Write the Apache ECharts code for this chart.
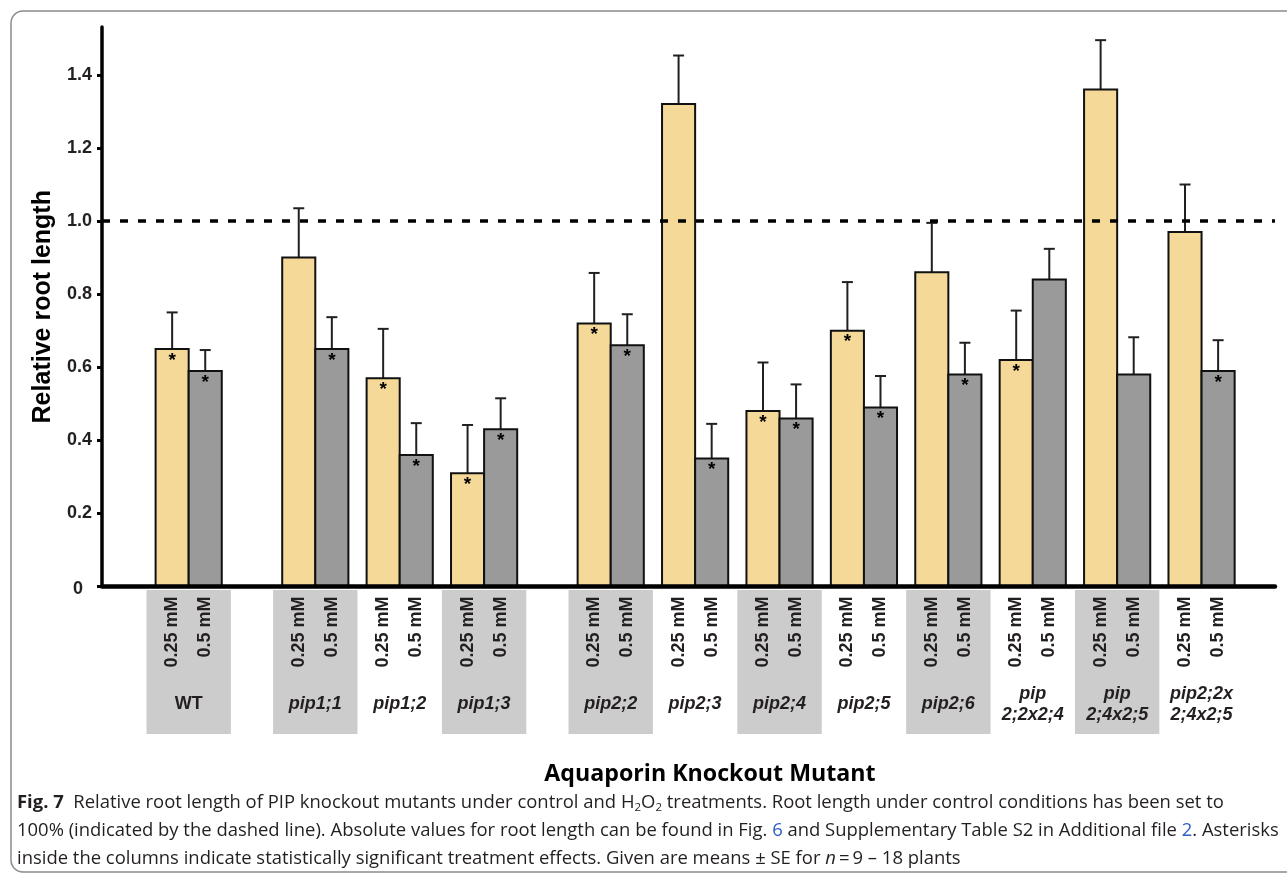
<!DOCTYPE html>
<html>
<head>
<meta charset="utf-8">
<script src="https://cdn.jsdelivr.net/npm/echarts@6/dist/echarts.min.js"></script>
<style>
html,body{margin:0;padding:0;background:#fff;}
#chart{width:1287px;height:875px;}
</style>
</head>
<body>
<div id="chart"></div>
<script>
// ---- data ----
const groupNames = ['WT','pip1;1','pip1;2','pip1;3','pip2;2','pip2;3','pip2;4','pip2;5','pip2;6','pip\n2;2x2;4','pip\n2;4x2;5','pip2;2x\n2;4x2;5'];
const groupSlots = [0, 1.5, 2.5, 3.5, 5, 6, 7, 8, 9, 10, 11, 12];
const doseLabels = ['0.25 mM', '0.5 mM'];
const mean025 = [0.65, 0.90, 0.57, 0.31, 0.72, 1.32, 0.48, 0.70, 0.86, 0.62, 1.36, 0.97];
const se025   = [0.10, 0.135, 0.135, 0.132, 0.138, 0.133, 0.133, 0.133, 0.135, 0.135, 0.135, 0.13];
const sig025  = [1, 0, 1, 1, 1, 0, 1, 1, 0, 1, 0, 0];
const mean05  = [0.59, 0.65, 0.36, 0.43, 0.66, 0.35, 0.46, 0.49, 0.58, 0.84, 0.58, 0.59];
const se05    = [0.057, 0.087, 0.087, 0.085, 0.085, 0.095, 0.093, 0.086, 0.087, 0.084, 0.102, 0.084];
const sig05   = [1, 1, 1, 1, 1, 1, 1, 1, 1, 0, 0, 1];
const referenceLevel = 1.0;
const yTickValues = [0, 0.2, 0.4, 0.6, 0.8, 1.0, 1.2, 1.4];
const shadedGroup = [1, 1, 0, 1, 1, 0, 1, 0, 1, 0, 1, 0];

// ---- styling ----
const YELLOW = '#f4d999';
const GRAY = '#9a9a9a';
const BOX = '#cccccc';
const INK = '#231f20';
const SANS = '"Liberation Sans", Arial, Helvetica, sans-serif';
const CAP = '"Open Sans", Lato, sans-serif';
const CAPSIZE = '18.45px ';

function barRenderer(side, fill) {
  return function (params, api) {
    const x = api.value(0), v = api.value(1), se = api.value(2), sig = api.value(3);
    const unit = api.size([1, 0])[0];
    const w = unit * 0.392;
    const base = api.coord([x, 0]);
    const top = api.coord([x, v]);
    const err = api.coord([x, v + se]);
    const cx = base[0] + side * w / 2;
    const children = [
      { type: 'line', shape: { x1: cx, y1: top[1], x2: cx, y2: err[1] }, style: { stroke: INK, lineWidth: 2 } },
      { type: 'line', shape: { x1: cx - 5.5, y1: err[1], x2: cx + 5.5, y2: err[1] }, style: { stroke: INK, lineWidth: 2 } },
      { type: 'rect', shape: { x: cx - w / 2, y: top[1], width: w, height: base[1] - top[1] },
        style: { fill: fill, stroke: '#111', lineWidth: 2 } }
    ];
    if (sig) {
      children.push({ type: 'text', x: cx, y: top[1] + 2,
        style: { text: '*', fill: '#000', font: 'bold 19px ' + SANS, align: 'center', verticalAlign: 'top' } });
    }
    return { type: 'group', children: children };
  };
}

function labelRenderer(params, api) {
  const x = api.value(0), i = api.value(1);
  const unit = api.size([1, 0])[0];
  const w = unit * 0.392;
  const base = api.coord([x, 0]);
  const children = [];
  if (shadedGroup[i]) {
    children.push({ type: 'rect', shape: { x: base[0] - unit / 2, y: base[1] + 3.5, width: unit, height: 144 },
      style: { fill: BOX } });
  }
  [-1, 1].forEach(function (side, k) {
    children.push({ type: 'text', x: base[0] + side * w / 2, y: base[1] + 10, rotation: Math.PI / 2,
      style: { text: doseLabels[k], fill: INK, font: 'bold 18px ' + SANS, align: 'right', verticalAlign: 'middle' } });
  });
  const italic = groupNames[i] === 'WT' ? '' : 'italic ';
  children.push({ type: 'text', x: base[0], y: base[1] + 118,
    style: { text: groupNames[i], fill: INK, font: italic + 'bold 18px ' + SANS, align: 'center',
      verticalAlign: 'middle', lineHeight: 21 } });
  return { type: 'group', children: children };
}

const chart = echarts.init(document.getElementById('chart'), null, { renderer: 'canvas' });
chart.setOption({
  backgroundColor: '#fff',
  animation: false,
  grid: { left: 102, right: 12, top: 27, bottom: 288.5, containLabel: false },
  xAxis: {
    type: 'value', min: -1.027, max: 12.87, z: 5,
    axisLine: { show: true, onZero: false, lineStyle: { color: '#000', width: 4.5 } },
    axisTick: { show: false }, axisLabel: { show: false }, splitLine: { show: false }
  },
  yAxis: {
    type: 'value', min: 0, max: 1.531, interval: 0.2, z: 5,
    name: 'Relative root length', nameLocation: 'middle', nameGap: 46,
    nameTextStyle: { fontFamily: SANS, fontWeight: 'bold', fontSize: 25, color: '#000' },
    axisLine: { show: true, onZero: false, lineStyle: { color: '#000', width: 3.5 } },
    axisTick: { show: true, length: 5, customValues: yTickValues, lineStyle: { color: '#000', width: 3 } },
    splitLine: { show: false },
    axisLabel: {
      margin: 10, fontFamily: SANS, fontWeight: 'bold', fontSize: 18, color: INK,
      customValues: yTickValues,
      formatter: function (v) {
        for (let t of yTickValues) {
          if (Math.abs(v - t) < 1e-6) return t === 0 ? '{z|0}' : t.toFixed(1);
        }
        return '';
      },
      rich: { z: { fontFamily: SANS, fontWeight: 'bold', fontSize: 18, color: INK, padding: [5, 9, 0, 0] } }
    }
  },
  series: [
    {
      type: 'custom', name: 'labels', renderItem: labelRenderer, clip: false, z: 1,
      data: groupSlots.map(function (s, i) { return [s, i]; }),
      encode: { x: 0, y: -1 }, silent: true
    },
    {
      type: 'custom', name: '0.25 mM', renderItem: barRenderer(-1, YELLOW), z: 2,
      data: groupSlots.map(function (s, i) { return [s, mean025[i], se025[i], sig025[i]]; }),
      encode: { x: 0, y: 1 },
      markLine: {
        silent: true, symbol: ['none', 'none'], label: { show: false },
        lineStyle: { color: '#000', width: 3.5, type: [8, 10] },
        data: [{ yAxis: referenceLevel }]
      }
    },
    {
      type: 'custom', name: '0.5 mM', renderItem: barRenderer(1, GRAY), z: 2,
      data: groupSlots.map(function (s, i) { return [s, mean05[i], se05[i], sig05[i]]; }),
      encode: { x: 0, y: 1 }
    }
  ],
  graphic: [
    { type: 'rect', z: -10, shape: { x: 11, y: 11, width: 1300, height: 861, r: 12 },
      style: { fill: 'none', stroke: '#8a8a8a', lineWidth: 1.5 } },
    { type: 'text', x: 710, y: 774, style: { text: 'Aquaporin Knockout Mutant', fill: '#000',
      font: 'bold 23.2px ' + CAP, align: 'center', verticalAlign: 'middle' } },
    { type: 'text', x: 17, y: 803, style: {
      text: '{b|Fig. 7}  Relative root length of PIP knockout mutants under control and H{s|2}O{s|2} treatments. Root length under control conditions has been set to',
      fill: INK, font: CAPSIZE + CAP, verticalAlign: 'middle', lineHeight: 22,
      rich: {
        b: { font: 'bold ' + CAPSIZE + CAP, fill: INK, lineHeight: 22 },
        s: { font: '11.5px ' + CAP, fill: INK, lineHeight: 22, verticalAlign: 'bottom', padding: [10, 0, 0, 0] }
      } } },
    { type: 'text', x: 17, y: 831, style: {
      text: '100% (indicated by the dashed line). Absolute values for root length can be found in Fig. {l|6} and Supplementary Table S2 in Additional file {l|2}. Asterisks',
      fill: INK, font: CAPSIZE + CAP, verticalAlign: 'middle',
      rich: { l: { font: CAPSIZE + CAP, fill: '#2b5fc4' } } } },
    { type: 'text', x: 17, y: 859, style: {
      text: 'inside the columns indicate statistically significant treatment effects. Given are means \u00b1 SE for {i|n}\u2009=\u20099 \u2013 18 plants',
      fill: INK, font: CAPSIZE + CAP, verticalAlign: 'middle',
      rich: { i: { font: 'italic ' + CAPSIZE + CAP, fill: INK } } } }
  ]
});
</script>
</body>
</html>
